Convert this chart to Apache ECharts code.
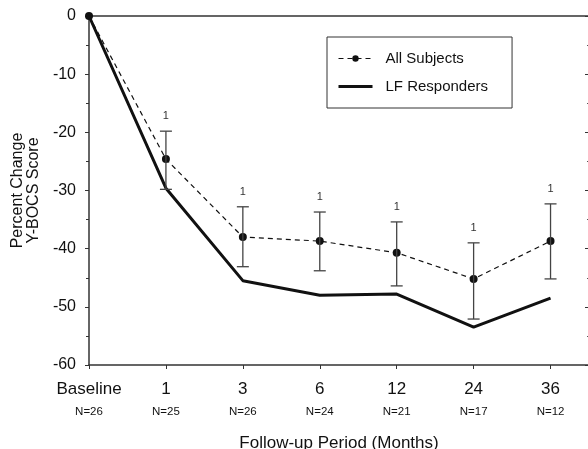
<!DOCTYPE html>
<html>
<head>
<meta charset="utf-8">
<script src="https://cdn.jsdelivr.net/npm/echarts@6/dist/echarts.min.js"></script>
<style>
  html, body { margin: 0; padding: 0; background: #fff; }
  #chart { width: 588px; height: 449px; }
</style>
</head>
<body>
<div id="chart"></div>
<script>
// 随访时间点
var periods = ['Baseline', '1', '3', '6', '12', '24', '36'];
var sampleN = ['N=26', 'N=25', 'N=26', 'N=24', 'N=21', 'N=17', 'N=12'];
// All Subjects 平均值及误差范围
var allSubjects = [0, -24.6, -38.0, -38.7, -40.7, -45.2, -38.7];
var errLow = [null, -29.8, -43.1, -43.8, -46.4, -52.1, -45.2];
var errHigh = [null, -19.8, -32.8, -33.7, -35.4, -39.0, -32.3];
// LF Responders
var lfResponders = [0, -29.6, -45.5, -48.0, -47.8, -53.5, -48.5];

var font = 'Liberation Sans, Arial, Helvetica, sans-serif';
var chart = echarts.init(document.getElementById('chart'));

var errData = [];
for (var i = 0; i < periods.length; i++) {
    if (errLow[i] !== null) errData.push([i, errLow[i], errHigh[i]]);
}

var option = {
    animation: false,
    grid: {
        left: 89, right: -1, top: 16, bottom: 84,
        outerBoundsMode: 'none',
        containLabel: false
    },
    legend: {
        left: 327, top: 37,
        orient: 'vertical',
        data: [
            { name: 'All Subjects', lineStyle: { width: 1.2 } },
            { name: 'LF Responders', itemStyle: { opacity: 0 }, lineStyle: { width: 3 } }
        ],
        itemWidth: 34, itemHeight: 8, itemGap: 13,
        padding: [14, 24, 14, 10],
        borderColor: '#333', borderWidth: 1,
        textStyle: { fontFamily: font, fontSize: 15, color: '#111', padding: [0, 0, 0, 8] }
    },
    xAxis: [{
        type: 'value',
        position: 'bottom',
        min: 0, max: 6.5, interval: 1,
        splitLine: { show: false },
        axisLine: { onZero: false, lineStyle: { color: '#333', width: 1.5 } },
        axisTick: { length: 4, lineStyle: { color: '#333' } },
        axisLabel: {
            margin: 14,
            color: '#111',
            showMaxLabel: false,
            formatter: function (v) {
                if (v % 1 !== 0 || !periods[v]) return '';
                return '{a|' + periods[v] + '}\n{n|' + sampleN[v] + '}';
            },
            rich: {
                a: { fontFamily: font, fontSize: 17, lineHeight: 20 },
                n: { fontFamily: font, fontSize: 11.5, lineHeight: 26 }
            }
        },
        name: 'Follow-up Period (Months)',
        nameLocation: 'middle',
        nameGap: 70,
        nameTextStyle: { fontFamily: font, fontSize: 17, color: '#111' }
    }, {
        type: 'value',
        position: 'top',
        min: 0, max: 6.5,
        splitLine: { show: false },
        axisLine: { show: true, onZero: false, lineStyle: { color: '#333', width: 1.5 } },
        axisTick: { show: false },
        axisLabel: { show: false }
    }],
    yAxis: [{
        type: 'value',
        min: -60, max: 0, interval: 10,
        splitLine: { show: false },
        axisLine: { show: true, onZero: false, lineStyle: { color: '#333', width: 1.5 } },
        axisTick: { length: 4, lineStyle: { color: '#333' } },
        minorTick: { show: true, splitNumber: 2, length: 3, lineStyle: { color: '#333' } },
        axisLabel: { margin: 13, color: '#111', fontFamily: font, fontSize: 16 },
        name: 'Percent Change\nY-BOCS Score',
        nameLocation: 'middle',
        nameGap: 46,
        nameTextStyle: { fontFamily: font, fontSize: 16, color: '#111', lineHeight: 16 }
    }, {
        type: 'value',
        position: 'right',
        min: -60, max: 0, interval: 10,
        splitLine: { show: false },
        axisLine: { show: true, onZero: false, lineStyle: { color: '#333', width: 1.5 } },
        axisTick: { inside: true, length: 4, lineStyle: { color: '#333' } },
        minorTick: { show: true, splitNumber: 2, length: 2, lineStyle: { color: '#555' } },
        axisLabel: { show: false }
    }],
    series: [{
        name: 'LF Responders',
        type: 'line',
        data: lfResponders.map(function (v, i) { return [i, v]; }),
        showSymbol: false,
        symbol: 'none',
        lineStyle: { color: '#111', width: 3 },
        itemStyle: { color: '#111' },
        z: 3
    }, {
        name: 'All Subjects',
        type: 'line',
        data: allSubjects.map(function (v, i) { return [i, v]; }),
        symbol: 'circle',
        symbolSize: 8,
        lineStyle: { color: '#111', width: 1.2, type: [5, 4] },
        itemStyle: { color: '#111' },
        z: 4
    }, {
        name: 'err',
        type: 'custom',
        data: errData,
        z: 5,
        renderItem: function (params, api) {
            var x = api.value(0);
            var lo = api.coord([x, api.value(1)]);
            var hi = api.coord([x, api.value(2)]);
            var hw = 6;
            var st = { stroke: '#444', lineWidth: 1.3 };
            return {
                type: 'group',
                children: [
                    { type: 'line', shape: { x1: lo[0], y1: lo[1], x2: hi[0], y2: hi[1] }, style: st },
                    { type: 'line', shape: { x1: lo[0] - hw, y1: lo[1], x2: lo[0] + hw, y2: lo[1] }, style: st },
                    { type: 'line', shape: { x1: hi[0] - hw, y1: hi[1], x2: hi[0] + hw, y2: hi[1] }, style: st },
                    { type: 'text', x: hi[0], y: hi[1] - 15,
                      style: { text: '1', fontFamily: font, fontSize: 11, fill: '#333', align: 'center', verticalAlign: 'middle' } }
                ]
            };
        }
    }]
};

chart.setOption(option);
</script>
</body>
</html>
